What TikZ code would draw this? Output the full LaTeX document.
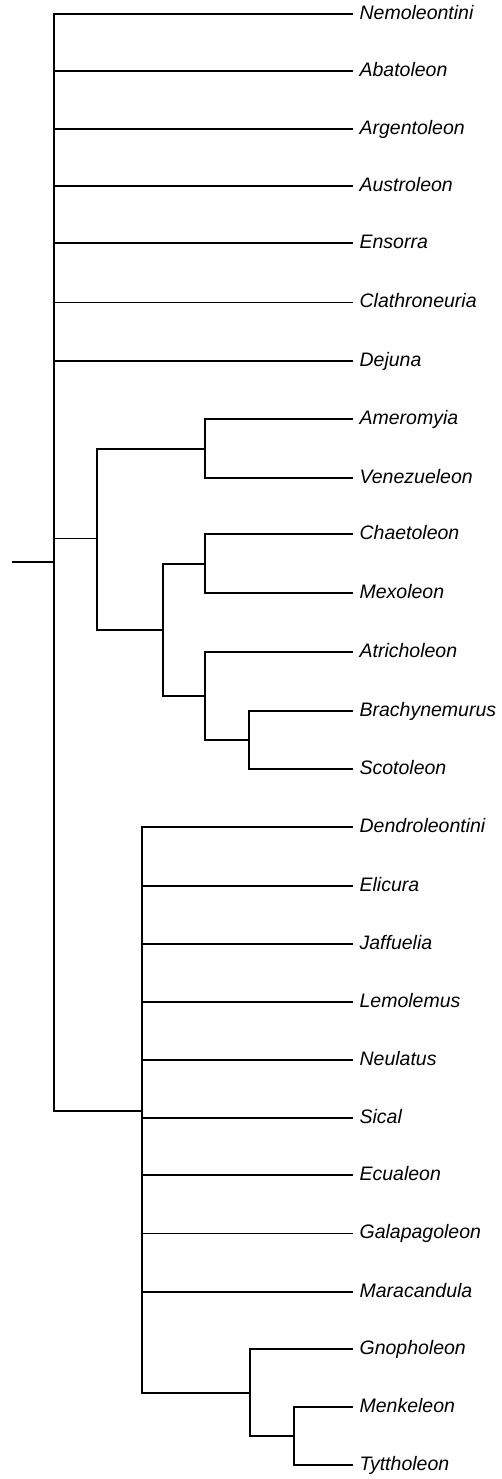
\documentclass[tikz,border=0pt]{standalone}
\usepackage{fontspec}
\setmainfont{Liberation Sans}
\usepackage{tikz}

\begin{document}
\begin{tikzpicture}[x=1pt,y=-1pt,line width=1.2pt,
  leaf/.style={anchor=west,inner xsep=6pt,inner ysep=0pt,text height=12.5pt,text depth=1.6pt,
    font=\itshape\fontsize{19.5}{21}\selectfont},
  thin line/.style={line width=0.7pt}]
\useasboundingbox (0,0) rectangle (501,1479);
% taxa
\foreach \n/\y in {Nemoleontini/14,Abatoleon/71,Argentoleon/129,Austroleon/186,Ensorra/243,
  Clathroneuria/302,Dejuna/361,Ameromyia/419,Venezueleon/478,Chaetoleon/534,Mexoleon/593,
  Atricholeon/652,Brachynemurus/711,Scotoleon/769,Dendroleontini/827,Elicura/886,Jaffuelia/944,
  Lemolemus/1002,Neulatus/1060,Sical/1118,Ecualeon/1175,Galapagoleon/1233,Maracandula/1292,
  Gnopholeon/1349,Menkeleon/1407,Tyttholeon/1465}
  \node[leaf] (\n) at (353,\y) {\n};
% internal nodes
\coordinate (stub) at (12,562);
\coordinate (root) at (54,562);
\coordinate (cladeA) at (97,538);
\coordinate (amven) at (205,449);
\coordinate (chaatr) at (163,630);
\coordinate (chamex) at (205,564);
\coordinate (atrsco) at (205,696);
\coordinate (brasco) at (249,740);
\coordinate (cladeB) at (142,1111);
\coordinate (gnotyt) at (250,1393);
\coordinate (mentyt) at (294,1436);
% branches
\draw (stub) -- (root);
\foreach \n in {Nemoleontini,Abatoleon,Argentoleon,Austroleon,Ensorra,Dejuna}
  \draw (root) |- (\n.west);
\draw[thin line] (root) |- (Clathroneuria.west);
\draw[thin line] (root) |- (cladeA);
\draw (root) |- (cladeB);
\draw (cladeA) |- (amven); \draw (cladeA) |- (chaatr);
\draw (amven) |- (Ameromyia.west); \draw (amven) |- (Venezueleon.west);
\draw (chaatr) |- (chamex); \draw (chaatr) |- (atrsco);
\draw (chamex) |- (Chaetoleon.west); \draw (chamex) |- (Mexoleon.west);
\draw (atrsco) |- (Atricholeon.west); \draw (atrsco) |- (brasco);
\draw (brasco) |- (Brachynemurus.west); \draw (brasco) |- (Scotoleon.west);
\foreach \n in {Dendroleontini,Elicura,Jaffuelia,Lemolemus,Neulatus,Sical,Ecualeon,Maracandula}
  \draw (cladeB) |- (\n.west);
\draw[thin line] (cladeB) |- (Galapagoleon.west);
\draw (cladeB) |- (gnotyt);
\draw (gnotyt) |- (Gnopholeon.west); \draw (gnotyt) |- (mentyt);
\draw (mentyt) |- (Menkeleon.west); \draw (mentyt) |- (Tyttholeon.west);
\end{tikzpicture}
\end{document}
